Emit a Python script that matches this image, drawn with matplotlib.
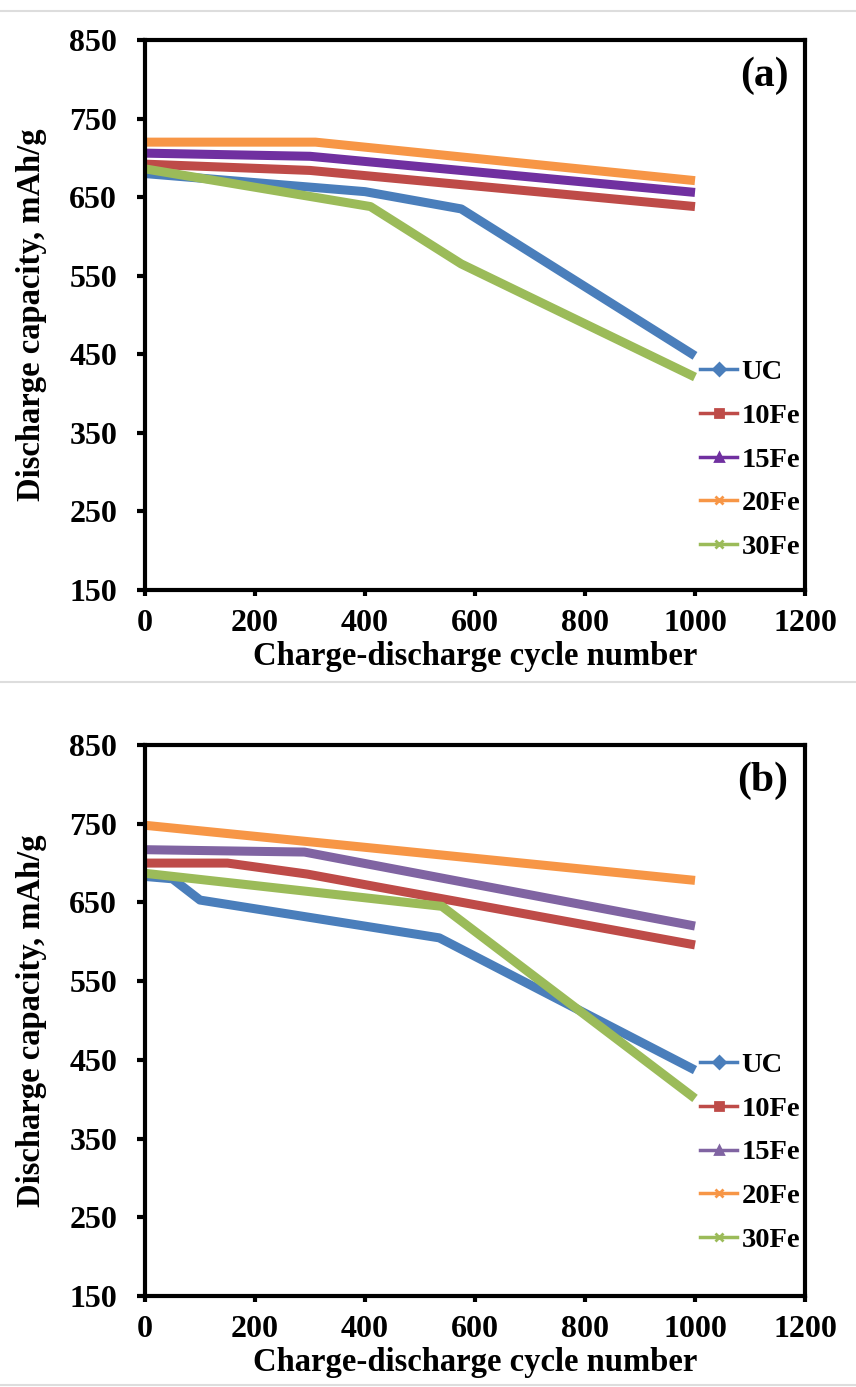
import matplotlib
matplotlib.use("Agg")
import matplotlib.pyplot as plt
from matplotlib.lines import Line2D

plt.rcParams['font.family'] = ['Liberation Serif', 'DejaVu Serif']
plt.rcParams['font.weight'] = 'bold'

# panel (a) data
uc_a_x = [0, 400, 575, 1000]
uc_a_y = [680, 657, 635, 448]
fe10_a_x = [0, 300, 1000]
fe10_a_y = [692, 684, 638]
fe15_a_x = [0, 300, 1000]
fe15_a_y = [706, 702, 656]
fe20_a_x = [0, 310, 1000]
fe20_a_y = [720, 720, 671]
fe30_a_x = [0, 410, 575, 1000]
fe30_a_y = [686, 638, 565, 421]

# panel (b) data
uc_b_x = [0, 50, 100, 535, 1000]
uc_b_y = [683, 680, 653, 605, 437]
fe10_b_x = [0, 150, 295, 1000]
fe10_b_y = [700, 700, 686, 596]
fe15_b_x = [0, 290, 1000]
fe15_b_y = [717, 714, 620]
fe20_b_x = [0, 1000]
fe20_b_y = [748, 678]
fe30_b_x = [0, 540, 1000]
fe30_b_y = [687, 645, 401]

labels = ['UC', '10Fe', '15Fe', '20Fe', '30Fe']
markers = ['D', 's', '^', 'x', 'x']
x_ticks = [0, 200, 400, 600, 800, 1000, 1200]
y_ticks = [150, 250, 350, 450, 550, 650, 750, 850]

blue = '#4a7ebb'
red = '#be4b48'
orange = '#f79646'
green = '#9bbb59'

W, H = 856, 1387
fig = plt.figure(figsize=(W / 100, H / 100), dpi=100)

# light grey separator lines like the original page
for yy in [11, 682, 1385]:
    fig.add_artist(Line2D([0, 1], [1 - yy / H, 1 - yy / H], color='#dddddd', lw=1.5))


def draw_panel(ax, series, colors, tag, leg_y):
    for (xs, ys), c in zip(series, colors):
        ax.plot(xs, ys, color=c, lw=6.5, solid_capstyle='butt', solid_joinstyle='round')
    ax.set_xlim(0, 1200)
    ax.set_ylim(150, 850)
    ax.set_xticks(x_ticks)
    ax.set_yticks(y_ticks)
    for s in ax.spines.values():
        s.set_linewidth(3)
    ax.tick_params(axis='y', direction='out', length=6, width=3, labelsize=23, pad=14)
    ax.tick_params(axis='x', direction='out', length=4, width=3, labelsize=23, pad=10)
    ax.set_xlabel('Charge-discharge cycle number', fontsize=23.5, fontweight='bold', labelpad=2)
    ax.set_ylabel('Discharge capacity, mAh/g', fontsize=23.5, fontweight='bold', labelpad=16)
    ax.text(0.975, 0.935, tag, transform=ax.transAxes, fontsize=30, fontweight='bold',
            ha='right', va='center')
    handles = [Line2D([0], [0], color=c, lw=2.5, marker=m, markersize=6, mew=2)
               for c, m in zip(colors, markers)]
    ax.legend(handles, labels, loc='upper left', bbox_to_anchor=(0.82, leg_y),
              frameon=False, fontsize=20.5, handlelength=1.3, handletextpad=0.15,
              labelspacing=0.62, borderpad=0)


ax_a = fig.add_axes([145 / W, 1 - 590 / H, 660 / W, 550 / H])
draw_panel(ax_a,
           [(uc_a_x, uc_a_y), (fe10_a_x, fe10_a_y), (fe15_a_x, fe15_a_y),
            (fe20_a_x, fe20_a_y), (fe30_a_x, fe30_a_y)],
           [blue, red, '#7030a0', orange, green], '(a)', 0.445)

ax_b = fig.add_axes([145 / W, 1 - 1296 / H, 660 / W, 551 / H])
draw_panel(ax_b,
           [(uc_b_x, uc_b_y), (fe10_b_x, fe10_b_y), (fe15_b_x, fe15_b_y),
            (fe20_b_x, fe20_b_y), (fe30_b_x, fe30_b_y)],
           [blue, red, '#8064a2', orange, green], '(b)', 0.468)

fig.savefig('out.png', dpi=100)
